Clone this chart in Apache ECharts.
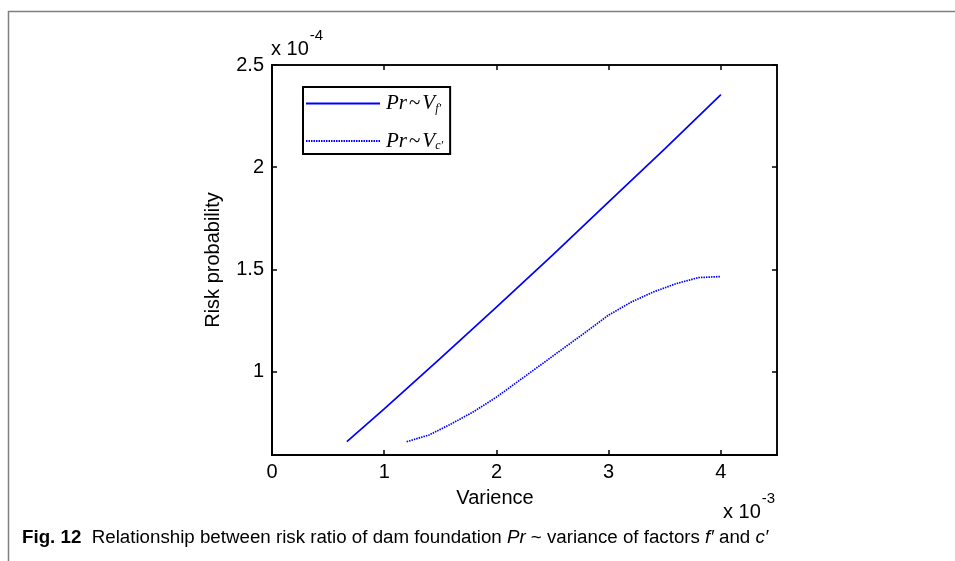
<!DOCTYPE html>
<html>
<head>
<meta charset="utf-8">
<script src="https://cdn.jsdelivr.net/npm/echarts@6/dist/echarts.min.js"></script>
<style>
  html, body { margin: 0; padding: 0; background: #fff; }
  #chart { width: 955px; height: 561px; }
</style>
</head>
<body>
<div id="chart"></div>
<script>
// Variance of f' (x 10^-3) and the resulting risk probability (x 10^-4)
var varF = [0.667, 1.0, 1.5, 2.0, 2.5, 3.0, 3.5, 4.0];
var riskF = [0.657, 0.818, 1.065, 1.315, 1.57, 1.83, 2.09, 2.355];

// Variance of c' (x 10^-3) and the resulting risk probability (x 10^-4)
var varC = [1.2, 1.4, 1.6, 1.8, 2.0, 2.2, 2.4, 2.6, 2.8, 3.0, 3.2, 3.4, 3.6, 3.8, 4.0];
var riskC = [0.657, 0.69, 0.745, 0.805, 0.875, 0.955, 1.035, 1.115, 1.195, 1.277, 1.34, 1.39, 1.43, 1.46, 1.465];

var xTicks = [0, 1, 2, 3, 4];
var yTicks = [1, 1.5, 2, 2.5];

function pairs(xs, ys) {
  return xs.map(function (x, i) { return [x, ys[i]]; });
}

var sans = 'Liberation Sans, Arial, sans-serif';
var serif = 'Liberation Serif, DejaVu Serif, serif';
var axisFont = { fontFamily: sans, fontSize: 20, color: '#000' };

var legendRich = {
  it: { fontFamily: serif, fontStyle: 'italic', fontSize: 21, color: '#000' },
  tl: { fontFamily: serif, fontSize: 21, color: '#000', padding: [0, 2, 0, 2] },
  sub: { fontFamily: serif, fontStyle: 'italic', fontSize: 12, color: '#000', verticalAlign: 'bottom', padding: [10, 0, 0, 0] }
};

var chart = echarts.init(document.getElementById('chart'), null, { renderer: 'canvas' });

chart.setOption({
  animation: false,
  backgroundColor: '#fff',
  grid: {
    left: 272, right: 178, top: 65, bottom: 106,
    show: true, borderColor: '#000', borderWidth: 1.5, backgroundColor: 'transparent'
  },
  legend: {
    orient: 'vertical',
    left: 303,
    top: 87,
    padding: [6, 7, 2, 2],
    itemGap: 16,
    itemWidth: 74,
    itemHeight: 14,
    borderColor: '#000',
    borderWidth: 2,
    borderRadius: 0,
    itemStyle: { opacity: 0 },
    data: ['f', 'c'],
    formatter: function (name) {
      return '{it|Pr}{tl|~}{it|V}{sub|' + name + '′}';
    },
    textStyle: { rich: legendRich, padding: [0, 0, 0, 1] }
  },
  xAxis: [
    {
      type: 'value', position: 'bottom', min: 0, max: 4.5,
      axisLine: { show: true, lineStyle: { color: '#000', width: 2 } },
      axisTick: { show: true, inside: true, length: 5, customValues: xTicks, lineStyle: { color: '#000', width: 1.5 } },
      axisLabel: Object.assign({ customValues: xTicks, margin: 7, formatter: function (v) { return String(v); } }, axisFont),
      splitLine: { show: false }
    },
    {
      type: 'value', position: 'top', min: 0, max: 4.5,
      axisLine: { show: true, lineStyle: { color: '#000', width: 1.5 } },
      axisTick: { show: true, inside: true, length: 5, customValues: xTicks, lineStyle: { color: '#000', width: 1.5 } },
      axisLabel: { show: false },
      splitLine: { show: false }
    }
  ],
  yAxis: [
    {
      type: 'value', position: 'left', min: 0.592, max: 2.5,
      name: 'Risk probability', nameLocation: 'middle', nameGap: 49,
      nameTextStyle: axisFont,
      axisLine: { show: true, lineStyle: { color: '#000', width: 2 } },
      axisTick: { show: true, inside: true, length: 5, customValues: yTicks, lineStyle: { color: '#000', width: 1.5 } },
      axisLabel: Object.assign({ customValues: yTicks, margin: 8, formatter: function (v) { return String(v); } }, axisFont),
      splitLine: { show: false }
    },
    {
      type: 'value', position: 'right', min: 0.592, max: 2.5, offset: 0,
      axisLine: { show: true, onZero: false, lineStyle: { color: '#000', width: 1.5 } },
      axisTick: { show: true, inside: true, length: 5, customValues: yTicks, lineStyle: { color: '#000', width: 1.5 } },
      axisLabel: { show: false },
      splitLine: { show: false }
    }
  ],
  series: [
    {
      name: 'f', type: 'line', xAxisIndex: 0, yAxisIndex: 0,
      data: pairs(varF, riskF), symbol: 'none', showSymbol: false,
      lineStyle: { color: '#0000ff', width: 1.7, type: 'solid' },
      itemStyle: { color: '#0000ff' }
    },
    {
      name: 'c', type: 'line', xAxisIndex: 0, yAxisIndex: 0,
      data: pairs(varC, riskC), symbol: 'none', showSymbol: false,
      lineStyle: { color: '#0000ff', width: 1.7, type: [1.5, 1] },
      itemStyle: { color: '#0000ff' }
    },
    {
      // carries the right-hand axis so its ticks are laid out
      type: 'line', xAxisIndex: 0, yAxisIndex: 1, data: [], silent: true
    }
  ],
  graphic: [
    // figure frame
    { type: 'line', shape: { x1: 8, y1: 11.5, x2: 955, y2: 11.5 }, style: { stroke: '#808080', lineWidth: 1.5 } },
    { type: 'line', shape: { x1: 8.5, y1: 11, x2: 8.5, y2: 561 }, style: { stroke: '#808080', lineWidth: 1.5 } },
    // x-axis title
    {
      type: 'text', x: 495, y: 498,
      style: { text: 'Varience', font: '20px ' + sans, fill: '#000', align: 'center', verticalAlign: 'middle' }
    },
    // exponent markers
    {
      type: 'text', left: 271, top: 28,
      style: {
        text: '{b|x 10}{s|-4}',
        rich: {
          b: { fontFamily: sans, fontSize: 20, fill: '#000', padding: [11, 1, 0, 0] },
          s: { fontFamily: sans, fontSize: 15, fill: '#000', verticalAlign: 'top' }
        }
      }
    },
    {
      type: 'text', left: 723, top: 491,
      style: {
        text: '{b|x 10}{s|-3}',
        rich: {
          b: { fontFamily: sans, fontSize: 20, fill: '#000', padding: [11, 1, 0, 0] },
          s: { fontFamily: sans, fontSize: 15, fill: '#000', verticalAlign: 'top' }
        }
      }
    },
    // caption
    {
      type: 'text', left: 22, top: 529, scaleX: 1.04,
      style: {
        text: '{b|Fig. 12}{n|  Relationship between risk ratio of dam foundation }{i|Pr}{n| ~ variance of factors }{i|f′}{n| and }{i|c′}',
        rich: {
          b: { fontFamily: sans, fontWeight: 'bold', fontSize: 18, fill: '#000' },
          n: { fontFamily: sans, fontSize: 18, fill: '#000' },
          i: { fontFamily: sans, fontStyle: 'italic', fontSize: 18, fill: '#000' }
        }
      }
    }
  ]
});
</script>
</body>
</html>
